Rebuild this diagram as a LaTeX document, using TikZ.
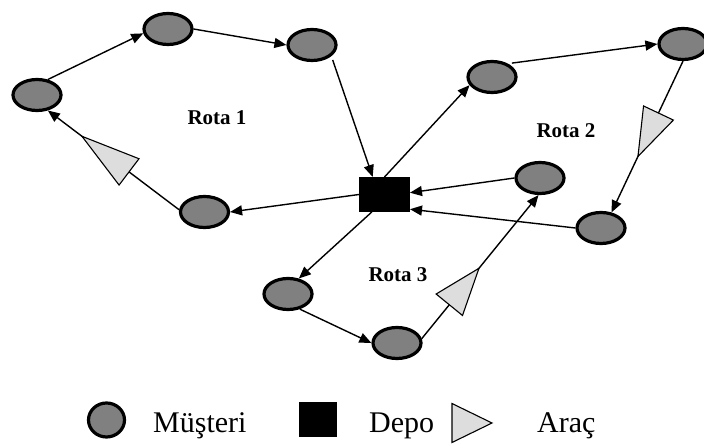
\documentclass[tikz,border=0pt]{standalone}
\usepackage{fontspec}
\setmainfont{Liberation Serif}
\usetikzlibrary{arrows.meta,shapes.geometric}
\definecolor{custgray}{RGB}{128,128,128}
\definecolor{vehgray}{RGB}{221,221,221}
\begin{document}
\begin{tikzpicture}[x=1pt,y=1pt,
  customer/.style={ellipse, draw=black, line width=3.2pt, fill=custgray,
    minimum width=48pt, minimum height=31pt, inner sep=0pt},
  depot/.style={rectangle, fill=black, draw=black, line width=0.6pt,
    minimum width=50.4pt, minimum height=34.4pt, inner sep=0pt},
  route/.style={line width=1.4pt, -{Triangle[length=12pt,width=10pt]}},
  vehshape/.style={isosceles triangle, isosceles triangle stretches,
    draw=black, line width=1.1pt, fill=vehgray, inner sep=0pt, outer sep=0pt},
  vehicle/.style={vehshape, anchor=apex, sloped, allow upside down},
  rotalabel/.style={font=\fontsize{21}{25}\selectfont\bfseries, inner sep=0pt},
  legendtext/.style={font=\fontsize{30}{36}\selectfont, anchor=base west, inner sep=0pt}
]
\useasboundingbox (0,0) rectangle (704,444);

% customers
\node[customer] (A) at (37,349) {};
\node[customer] (B) at (168,415) {};
\node[customer] (C) at (312,399) {};
\node[customer] (D) at (204.5,232) {};
\node[customer] (E) at (492,367) {};
\node[customer] (F) at (683,400) {};
\node[customer] (G) at (540,266) {};
\node[customer] (H) at (601,216) {};
\node[customer] (I) at (288,150) {};
\node[customer] (J) at (397,101) {};

% depot
\node[depot] (dep) at (384.5,249.5) {};

% route labels
\node[rotalabel] (r1) at (217,326) {Rota 1};
\node[rotalabel] (r2) at (566,313) {Rota 2};
\node[rotalabel] (r3) at (398,169) {Rota 3};

% route 1
\draw[route, shorten <=4pt] (C.-30) -- (dep.124);
\draw[route] (dep.west) -- (D.east);
\draw[route] (D.175) -- node[vehicle, pos=0.74, minimum height=59pt, minimum width=33pt] (v1) {} (A.-55);
\draw[route] (A.55) -- (B.190);
\draw[route] (B.east) -- (C.west);

% route 2
\draw[route] (dep.north) -- (E.200);
\draw[route, shorten <=4pt] (E.40) -- (F.west);
\draw[route] (F.south) -- node[vehicle, pos=0.63, minimum height=48pt, minimum width=33pt] (v2) {} (H.56);
\draw[route] (H.west) -- (dep.-30);

% route 3
\draw[route] (dep.234) -- (I.55);
\draw[route] (I.-52) -- (J.west);
\draw[route] (J.10) -- node[vehicle, pos=0.49, minimum height=47pt, minimum width=34pt] (v3) {} (G.-95);
\draw[route] (G.west) -- (dep.4);

% legend
\node[ellipse, draw=black, line width=3.2pt, fill=custgray, minimum width=36pt,
  minimum height=34pt, inner sep=0pt] (legcust) at (106.5,24) {};
\node[legendtext] (legcusttxt) at (153,11) {Müşteri};
\node[rectangle, fill=black, minimum width=38pt, minimum height=35pt, inner sep=0pt]
  (legdep) at (318,24.5) {};
\node[legendtext] (legdeptxt) at (369,11) {Depo};
\node[vehshape, anchor=apex, minimum height=40pt, minimum width=39pt] (legveh) at (492,21) {};
\node[legendtext] (legvehtxt) at (537,11) {Araç};
\end{tikzpicture}
\end{document}
